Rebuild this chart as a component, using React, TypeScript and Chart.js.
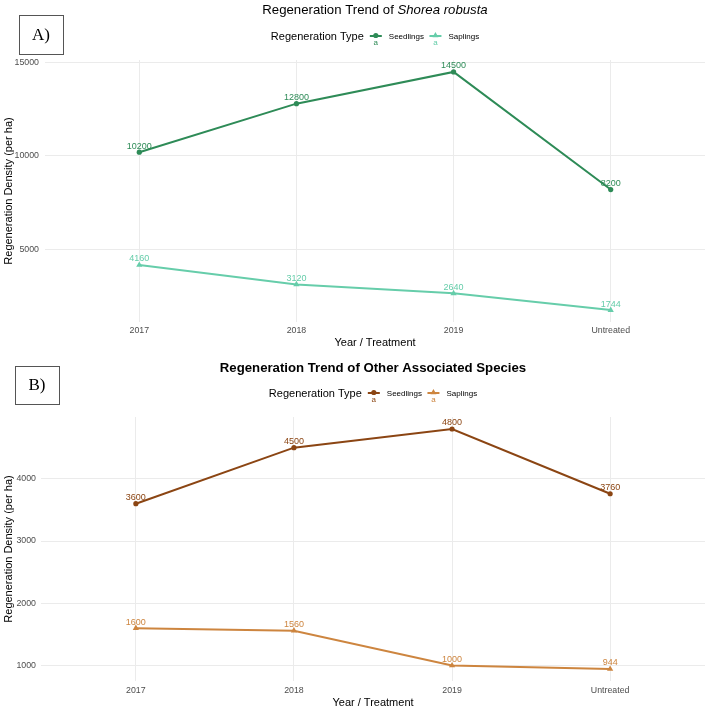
import { useEffect, useRef } from "react";
import { Chart, registerables } from "chart.js";

Chart.register(...registerables);

// ---- data ----
const categories = ["2017", "2018", "2019", "Untreated"];
const seriesNames = ["Seedlings", "Saplings"];

const shoreaSeedlings = [10200, 12800, 14500, 8200];
const shoreaSaplings = [4160, 3120, 2640, 1744];
const shoreaTicks = [5000, 10000, 15000];

const otherSeedlings = [3600, 4500, 4800, 3760];
const otherSaplings = [1600, 1560, 1000, 944];
const otherTicks = [1000, 2000, 3000, 4000];

// ---- styling ----
const SANS = '"Liberation Sans", Arial, Helvetica, sans-serif';
const SERIF = '"Liberation Serif", "Times New Roman", serif';
const GRID = "#EBEBEB";
const AXIS_TEXT = "#4D4D4D";

type Part = { text: string; italic?: boolean };

interface PanelSpec {
  tag: string;
  tagBox: [number, number, number, number];
  title: Part[];
  titleBold: boolean;
  titleY: number;
  legendY: number;
  colors: [string, string];
  seedlings: number[];
  saplings: number[];
  yTicks: number[];
  height: number;
  plotTop: number;
  yAxisWidth: number;
  xAxisHeight: number;
  yTickPad: number;
  xTickPad: number;
}

const panelA: PanelSpec = {
  tag: "A)",
  tagBox: [19, 15, 44, 39],
  title: [{ text: "Regeneration Trend of " }, { text: "Shorea robusta", italic: true }],
  titleBold: false,
  titleY: 10,
  legendY: 37,
  colors: ["#2E8B57", "#66CDAA"],
  seedlings: shoreaSeedlings,
  saplings: shoreaSaplings,
  yTicks: shoreaTicks,
  height: 350,
  plotTop: 60,
  yAxisWidth: 45,
  xAxisHeight: 28,
  yTickPad: 6,
  xTickPad: 3,
};

const panelB: PanelSpec = {
  tag: "B)",
  tagBox: [15, 16, 44, 38],
  title: [{ text: "Regeneration Trend of Other Associated Species" }],
  titleBold: true,
  titleY: 18,
  legendY: 44,
  colors: ["#8B4513", "#CD853F"],
  seedlings: otherSeedlings,
  saplings: otherSaplings,
  yTicks: otherTicks,
  height: 360,
  plotTop: 67,
  yAxisWidth: 41,
  xAxisHeight: 29,
  yTickPad: 5,
  xTickPad: 4,
};

function drawMarker(ctx: CanvasRenderingContext2D, x: number, y: number, r: number, shape: string) {
  ctx.beginPath();
  if (shape === "triangle") {
    ctx.moveTo(x, y - r);
    ctx.lineTo(x + r * 0.866, y + r * 0.5);
    ctx.lineTo(x - r * 0.866, y + r * 0.5);
    ctx.closePath();
  } else {
    ctx.arc(x, y, r, 0, Math.PI * 2);
  }
  ctx.fill();
}

function drawKey(ctx: CanvasRenderingContext2D, x: number, y: number, color: string, shape: string) {
  ctx.strokeStyle = color;
  ctx.fillStyle = color;
  ctx.lineWidth = 2;
  ctx.beginPath();
  ctx.moveTo(x - 6, y - 1);
  ctx.lineTo(x + 6, y - 1);
  ctx.stroke();
  drawMarker(ctx, x, y - 1.5, shape === "triangle" ? 3.4 : 2.6, shape);
  ctx.font = `8px ${SANS}`;
  ctx.textAlign = "center";
  ctx.textBaseline = "middle";
  ctx.fillText("a", x, y + 6);
}

function makeDecor(spec: PanelSpec) {
  return {
    id: "panelDecor",
    afterDatasetsDraw(chart: any) {
      const ctx: CanvasRenderingContext2D = chart.ctx;
      ctx.save();
      ctx.font = `9px ${SANS}`;
      ctx.textAlign = "center";
      ctx.textBaseline = "middle";
      chart.data.datasets.forEach((ds: any, di: number) => {
        const meta = chart.getDatasetMeta(di);
        ctx.fillStyle = ds.borderColor;
        meta.data.forEach((el: any, i: number) => {
          ctx.fillText(String(ds.data[i].y), el.x, el.y - 6);
        });
      });
      ctx.restore();
    },
    afterDraw(chart: any) {
      const ctx: CanvasRenderingContext2D = chart.ctx;
      const area = chart.chartArea;
      const cx = (area.left + area.right) / 2;
      ctx.save();

      // title (may mix upright and italic runs)
      const weight = spec.titleBold ? "bold " : "";
      const fontFor = (p: Part) => `${p.italic ? "italic " : ""}${weight}13.2px ${SANS}`;
      let total = 0;
      const widths = spec.title.map((p) => {
        ctx.font = fontFor(p);
        const w = ctx.measureText(p.text).width;
        total += w;
        return w;
      });
      let x = cx - total / 2;
      ctx.fillStyle = "#000";
      ctx.textAlign = "left";
      ctx.textBaseline = "middle";
      spec.title.forEach((p, i) => {
        ctx.font = fontFor(p);
        ctx.fillText(p.text, x, spec.titleY);
        x += widths[i];
      });

      // legend
      const legendTitle = "Regeneration Type";
      ctx.font = `11px ${SANS}`;
      const tw = ctx.measureText(legendTitle).width;
      ctx.font = `8px ${SANS}`;
      const w0 = ctx.measureText(seriesNames[0]).width;
      const w1 = ctx.measureText(seriesNames[1]).width;
      const legendW = tw + 12 + 13 + w0 + 11.5 + 13 + w1;
      let lx = cx - legendW / 2;
      const ly = spec.legendY;
      ctx.fillStyle = "#000";
      ctx.font = `11px ${SANS}`;
      ctx.textAlign = "left";
      ctx.fillText(legendTitle, lx, ly);
      lx += tw + 12;
      drawKey(ctx, lx, ly, spec.colors[0], "circle");
      lx += 13;
      ctx.fillStyle = "#000";
      ctx.font = `8px ${SANS}`;
      ctx.textAlign = "left";
      ctx.fillText(seriesNames[0], lx, ly);
      lx += w0 + 11.5;
      drawKey(ctx, lx, ly, spec.colors[1], "triangle");
      lx += 13;
      ctx.fillStyle = "#000";
      ctx.font = `8px ${SANS}`;
      ctx.textAlign = "left";
      ctx.fillText(seriesNames[1], lx, ly);

      // panel tag box
      const [bx, by, bw, bh] = spec.tagBox;
      ctx.strokeStyle = "#555";
      ctx.lineWidth = 1;
      ctx.strokeRect(bx + 0.5, by + 0.5, bw, bh);
      ctx.fillStyle = "#000";
      ctx.font = `17px ${SERIF}`;
      ctx.textAlign = "center";
      ctx.textBaseline = "middle";
      ctx.fillText(spec.tag, bx + bw / 2, by + bh / 2 + 1);

      ctx.restore();
    },
  };
}

function Panel({ spec }: { spec: PanelSpec }) {
  const ref = useRef<HTMLCanvasElement | null>(null);

  useEffect(() => {
    if (!ref.current) return;
    const all = spec.seedlings.concat(spec.saplings);
    const lo = Math.min(...all);
    const hi = Math.max(...all);
    const pad = (hi - lo) * 0.05;
    const [cSeed, cSap] = spec.colors;

    const chart = new Chart(ref.current, {
      type: "line",
      data: {
        datasets: [
          {
            label: seriesNames[0],
            data: spec.seedlings.map((v, i) => ({ x: i, y: v })),
            borderColor: cSeed,
            backgroundColor: cSeed,
            borderWidth: 2,
            pointStyle: "circle",
            pointRadius: 2.6,
            pointBorderWidth: 0,
            tension: 0,
          },
          {
            label: seriesNames[1],
            data: spec.saplings.map((v, i) => ({ x: i, y: v })),
            borderColor: cSap,
            backgroundColor: cSap,
            borderWidth: 2,
            pointStyle: "triangle",
            pointRadius: 3.6,
            pointBorderWidth: 0,
            tension: 0,
          },
        ],
      },
      options: {
        responsive: false,
        animation: false,
        devicePixelRatio: 1,
        events: [],
        layout: { padding: { top: spec.plotTop, left: 0, right: 4, bottom: 0 } },
        plugins: {
          legend: { display: false },
          title: { display: false },
          tooltip: { enabled: false },
        },
        scales: {
          x: {
            type: "linear",
            bounds: "data",
            min: -0.6,
            max: categories.length - 0.4,
            afterBuildTicks: (s: any) => {
              s.ticks = categories.map((_, i) => ({ value: i }));
            },
            afterFit: (s: any) => {
              s.height = spec.xAxisHeight;
            },
            grid: { color: GRID, lineWidth: 1, drawTicks: false },
            border: { display: false },
            ticks: {
              callback: (v: any) => categories[Math.round(Number(v))] ?? "",
              padding: spec.xTickPad,
              font: { family: SANS, size: 8.8 },
              color: AXIS_TEXT,
              maxRotation: 0,
              autoSkip: false,
            },
            title: {
              display: true,
              text: "Year / Treatment",
              font: { family: SANS, size: 11 },
              color: "#000",
              padding: { top: 0, bottom: 0 },
            },
          },
          y: {
            type: "linear",
            bounds: "data",
            min: lo - pad,
            max: hi + pad,
            afterBuildTicks: (s: any) => {
              s.ticks = spec.yTicks.map((v) => ({ value: v }));
            },
            afterFit: (s: any) => {
              s.width = spec.yAxisWidth;
            },
            grid: { color: GRID, lineWidth: 1, drawTicks: false },
            border: { display: false },
            ticks: {
              callback: (v: any) => String(v),
              padding: spec.yTickPad,
              font: { family: SANS, size: 8.8 },
              color: AXIS_TEXT,
            },
            title: {
              display: true,
              text: "Regeneration Density (per ha)",
              font: { family: SANS, size: 11 },
              color: "#000",
              padding: { top: 2.5, bottom: 0 },
            },
          },
        },
      } as any,
      plugins: [makeDecor(spec)],
    });

    return () => chart.destroy();
  }, [spec]);

  return <canvas ref={ref} width={709} height={spec.height} style={{ display: "block", width: 709, height: spec.height }} />;
}

export default function App() {
  return (
    <div
      style={{
        position: "absolute",
        left: 0,
        top: 0,
        width: 709,
        height: 710,
        background: "#fff",
        overflow: "hidden",
      }}
    >
      <Panel spec={panelA} />
      <Panel spec={panelB} />
    </div>
  );
}
